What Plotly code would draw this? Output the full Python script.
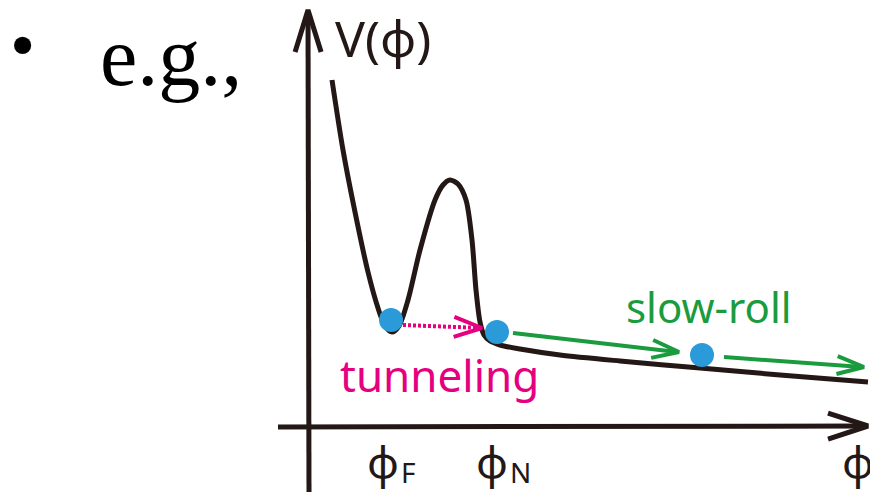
import plotly.graph_objects as go
import math

# ---- data (schematic potential, in picture units) ----
phi_curve = [332, 343, 355, 368, 378, 385, 392, 399, 408, 420, 435, 443, 450, 458, 466, 472, 476, 480, 484, 490, 500, 520, 560, 620, 700, 780, 868]
V_curve   = [80, 150, 212, 272, 308, 326, 332, 326, 300, 250, 200, 185, 180, 184, 200, 240, 290, 322, 335, 341, 345, 349, 355, 361, 368, 375, 382]

ball_phi = [391, 497, 702]
ball_V   = [320, 332, 355]

# arrows: (start_x, start_y, tip_x, tip_y)
tunnel_arrow = [403, 325, 482, 328]
roll_arrows = [[513, 333, 679, 352], [724, 357, 864, 367]]

# axes: origin and ends
axis_x0, axis_y0 = 309, 427
xaxis_from, xaxis_to = 278, 868
yaxis_from, yaxis_to = 492, 10

tick_labels = ["ϕ", "ϕ", "ϕ"]
tick_subs = ["F", "N", ""]
tick_pos = [383, 492, 858]

BLACK = "#231815"
MAGENTA = "#E4007F"
GREEN = "#1A9B3E"
BLUE = "#2B9AD8"
SANS = "Noto Sans"

fig = go.Figure()


def head(x0, y0, x1, y1, length, half):
    d = math.hypot(x1 - x0, y1 - y0)
    ux, uy = (x1 - x0) / d, (y1 - y0) / d
    px, py = -uy, ux
    bx, by = x1 - ux * length, y1 - uy * length
    return [bx + px * half, x1, bx - px * half], [by + py * half, y1, by - py * half]


# axes
fig.add_trace(go.Scatter(x=[xaxis_from, xaxis_to - 2], y=[axis_y0, axis_y0 - 1], mode="lines",
                         line=dict(color=BLACK, width=5), hoverinfo="skip"))
hx, hy = head(xaxis_from, axis_y0, xaxis_to, axis_y0 - 1, 40, 13)
fig.add_trace(go.Scatter(x=hx, y=hy, mode="lines", line=dict(color=BLACK, width=5), hoverinfo="skip"))
fig.add_trace(go.Scatter(x=[axis_x0, axis_x0 - 1], y=[yaxis_from, yaxis_to + 2], mode="lines",
                         line=dict(color=BLACK, width=5), hoverinfo="skip"))
hx, hy = head(axis_x0, yaxis_from, axis_x0 - 1, yaxis_to, 42, 13)
fig.add_trace(go.Scatter(x=hx, y=hy, mode="lines", line=dict(color=BLACK, width=5), hoverinfo="skip"))

# potential curve
fig.add_trace(go.Scatter(x=phi_curve, y=V_curve, mode="lines",
                         line=dict(color=BLACK, width=5, shape="spline", smoothing=0.8), hoverinfo="skip"))

# tunneling arrow (dotted)
sx, sy, tx, ty = tunnel_arrow
fig.add_trace(go.Scatter(x=[sx, tx - 6], y=[sy, ty - 0.2], mode="lines",
                         line=dict(color=MAGENTA, width=4, dash="3px,2px"), hoverinfo="skip"))
hx, hy = head(sx, sy, tx, ty, 28, 10)
fig.add_trace(go.Scatter(x=hx, y=hy, mode="lines", line=dict(color=MAGENTA, width=4), hoverinfo="skip"))

# slow-roll arrows
for sx, sy, tx, ty in roll_arrows:
    fig.add_trace(go.Scatter(x=[sx, tx - 2], y=[sy, ty], mode="lines",
                             line=dict(color=GREEN, width=4), hoverinfo="skip"))
    hx, hy = head(sx, sy, tx, ty, 27, 9)
    fig.add_trace(go.Scatter(x=hx, y=hy, mode="lines", line=dict(color=GREEN, width=4), hoverinfo="skip"))

# balls
fig.add_trace(go.Scatter(x=ball_phi, y=ball_V, mode="markers",
                         marker=dict(color=BLUE, size=24, line=dict(width=0)), hoverinfo="skip"))

ann = []
ann.append(dict(x=22, y=45, text="•", font=dict(family="Liberation Serif", size=72, color="black"),
                xanchor="center", yanchor="middle"))
ann.append(dict(x=98, y=56, text="e.g.,", font=dict(family="Liberation Serif", size=84, color="black"),
                xanchor="left", yanchor="middle"))
ann.append(dict(x=333, y=38, text="V(ϕ)", font=dict(family=SANS, size=50, color=BLACK),
                xanchor="left", yanchor="middle"))
ann.append(dict(x=439, y=375, text="tunneling", font=dict(family=SANS, size=44, color=MAGENTA),
                xanchor="center", yanchor="middle"))
ann.append(dict(x=709, y=306, text="slow-roll", font=dict(family=SANS, size=42, color=GREEN),
                xanchor="center", yanchor="middle"))
for p, lab, sub in zip(tick_pos, tick_labels, tick_subs):
    ann.append(dict(x=p, y=461, text=lab, font=dict(family=SANS, size=44, color=BLACK),
                    xanchor="center", yanchor="middle"))
    if sub:
        ann.append(dict(x=p + 16, y=472, text=sub, font=dict(family=SANS, size=28, color=BLACK),
                        xanchor="left", yanchor="middle"))

for a in ann:
    a.update(xref="x", yref="y", showarrow=False)

fig.update_layout(
    width=870, height=492,
    margin=dict(l=0, r=0, t=0, b=0),
    paper_bgcolor="white", plot_bgcolor="white",
    showlegend=False,
    xaxis=dict(range=[0, 870], visible=False, fixedrange=True),
    yaxis=dict(range=[492, 0], visible=False, fixedrange=True),
    annotations=ann,
)

fig.write_html("out.html", config={"displayModeBar": False},
               post_script="document.body.style.margin='0px';document.body.style.overflow='hidden';")
